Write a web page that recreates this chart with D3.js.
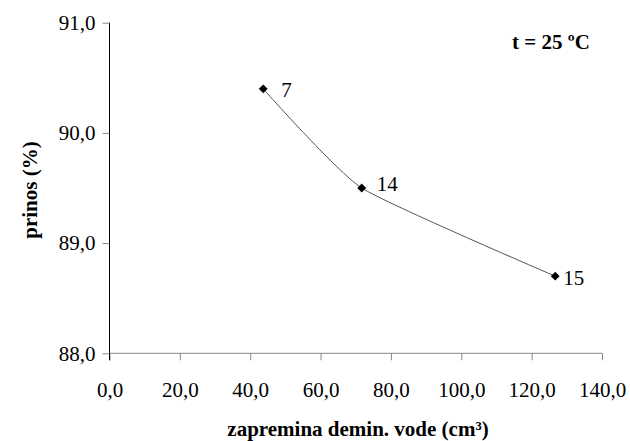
<!DOCTYPE html>
<html><head><meta charset="utf-8">
<script src="https://cdn.jsdelivr.net/npm/d3@7"></script>
</head><body style="margin:0">
<svg width="630" height="441" id="chart" style="display:block"></svg>
<script>
const xValues = [43.7, 71.7, 126.7];
const yValues = [90.4, 89.5, 88.7];
const pointLabels = ["7", "14", "15"];
const xTicks = [0, 20, 40, 60, 80, 100, 120, 140];
const yTicks = [88, 89, 90, 91];
const xTitle = "zapremina demin. vode (cm³)";
const yTitle = "prinos (%)";
const note = "t = 25 ºC";

const svg = d3.select("#chart");
const x = d3.scaleLinear().domain([0, 140]).range([109.5, 602]);
const y = d3.scaleLinear().domain([88, 91]).range([353.3, 22.7]);
const fmt = d => d3.format(".1f")(d).replace(".", ",");

// x axis
const gx = svg.append("g").attr("transform", `translate(0,${y(88)})`)
  .call(d3.axisBottom(x).tickValues(xTicks).tickFormat(fmt).tickSize(7).tickPadding(22));
gx.select(".domain").attr("stroke", "#888").attr("d", `M${x(0)},0H${x(140)}`);
gx.selectAll(".tick line").attr("stroke", "#888");

// y axis
const gy = svg.append("g").attr("transform", `translate(${x(0)},0)`)
  .call(d3.axisLeft(y).tickValues(yTicks).tickFormat(fmt).tickSize(7).tickPadding(7));
gy.select(".domain").attr("stroke", "#000").attr("d", `M0,${y(91)}V${y(88) + 7}`);
gy.selectAll(".tick line").attr("stroke", "#888");

[gx.node(), gy.node()].forEach(n => { n.removeAttribute("font-family"); n.removeAttribute("font-size"); });

const data = xValues.map((v, i) => ({x: v, y: yValues[i], label: pointLabels[i]}));

svg.append("path").datum(data)
  .attr("fill", "none").attr("stroke", "#555").attr("stroke-width", 1)
  .attr("d", d3.line().x(d => x(d.x)).y(d => y(d.y)).curve(d3.curveCardinal.tension(0.5)));

svg.selectAll(".pt").data(data).enter().append("path")
  .attr("transform", d => `translate(${x(d.x)},${y(d.y)})`)
  .attr("d", d3.symbol(d3.symbolDiamond2, 50)).attr("fill", "#000");

const lblOff = [[18, 8], [15, 3], [8, 9]];
svg.selectAll(".lbl").data(data).enter().append("text")
  .attr("x", (d, i) => x(d.x) + lblOff[i][0]).attr("y", (d, i) => y(d.y) + lblOff[i][1])
  .text(d => d.label);

svg.append("text").attr("x", 358).attr("y", 436).attr("text-anchor", "middle")
  .attr("font-weight", "bold").text(xTitle);
svg.append("text").attr("transform", "translate(37,190) rotate(-90)").attr("text-anchor", "middle")
  .attr("font-weight", "bold").text(yTitle);
svg.append("text").attr("x", 551).attr("y", 49).attr("text-anchor", "middle")
  .attr("font-weight", "bold").text(note);

svg.selectAll("text").each(function () {
  this.setAttribute("font-family", "Liberation Serif, serif");
  this.setAttribute("font-size", "21");
  this.setAttribute("fill", "#000");
});
</script>
</body></html>
